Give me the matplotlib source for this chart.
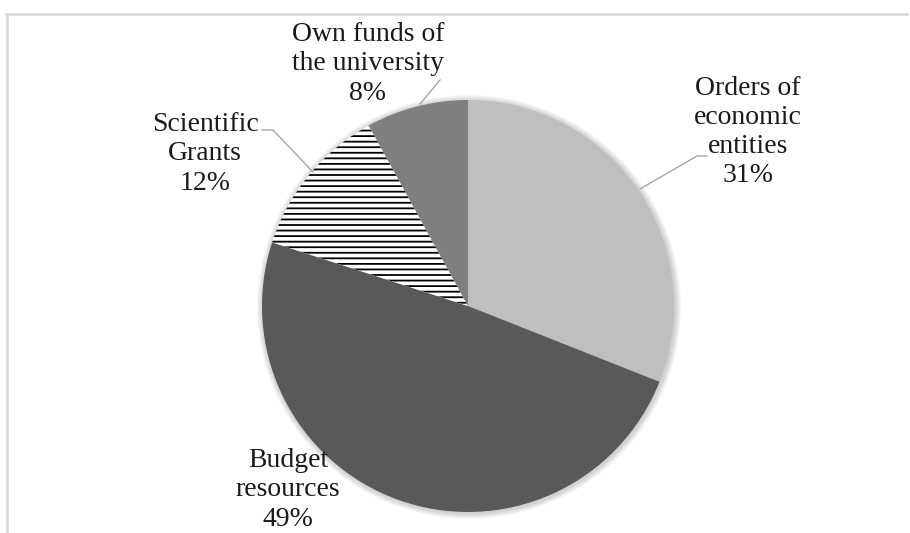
import numpy as np
import matplotlib
matplotlib.use("Agg")
import matplotlib.pyplot as plt

# data
labels = ["Orders of\neconomic\nentities", "Budget\nresources", "Scientific\nGrants", "Own funds of\nthe university"]
shares = [31, 49, 12, 8]
colors = ["#bfbfbf", "#595959", "white", "#7f7f7f"]

plt.rcParams['font.family'] = ['Liberation Serif', 'DejaVu Serif']
plt.rcParams['hatch.linewidth'] = 1.3

W, H = 910, 533
fig = plt.figure(figsize=(W / 100, H / 100), dpi=100)
ax = fig.add_axes([0, 0, 1, 1])

cx, cy, r = 468, H - 306, 206

# soft shadow around the pie
for k in range(6):
    c = plt.Circle((cx + 1, cy - 1), r + 1 + k, color='black', alpha=0.03, lw=0, zorder=0)
    ax.add_patch(c)

wedges, _ = ax.pie(shares, colors=colors, startangle=90, counterclock=False,
                   center=(cx, cy), radius=r, frame=True,
                   wedgeprops=dict(linewidth=0))
wedges[2].set_hatch('---')
wedges[2].set_edgecolor('black')
wedges[2].set_linewidth(0)
ax.set_xlim(0, W)
ax.set_ylim(0, H)
ax.set_aspect('equal')
ax.axis('off')

# label positions (centre of text block, pixel coords from top)
pos = [(748, 132), (288, 490), (205, 154), (368, 64)]
for lab, s, (x, y) in zip(labels, shares, pos):
    ax.text(x, H - y, f"{lab}\n{s}%", ha='center', va='center',
            fontsize=20, linespacing=1.22, color='#1a1a1a')

# leader lines
lc = '#a6a6a6'
ax.plot([640, 697, 707], [H - 189, H - 156, H - 156], color=lc, lw=1)
ax.plot([313, 273, 262], [H - 172, H - 130, H - 130], color=lc, lw=1)
ax.plot([420, 440], [H - 104, H - 80], color=lc, lw=1)

# frame lines
ax.plot([5, 908], [H - 14, H - 14], color='#d9d9d9', lw=2, solid_capstyle='butt')
ax.plot([7, 7], [H - 14, 0], color='#d9d9d9', lw=2, solid_capstyle='butt')

fig.savefig("out.png", dpi=100)
